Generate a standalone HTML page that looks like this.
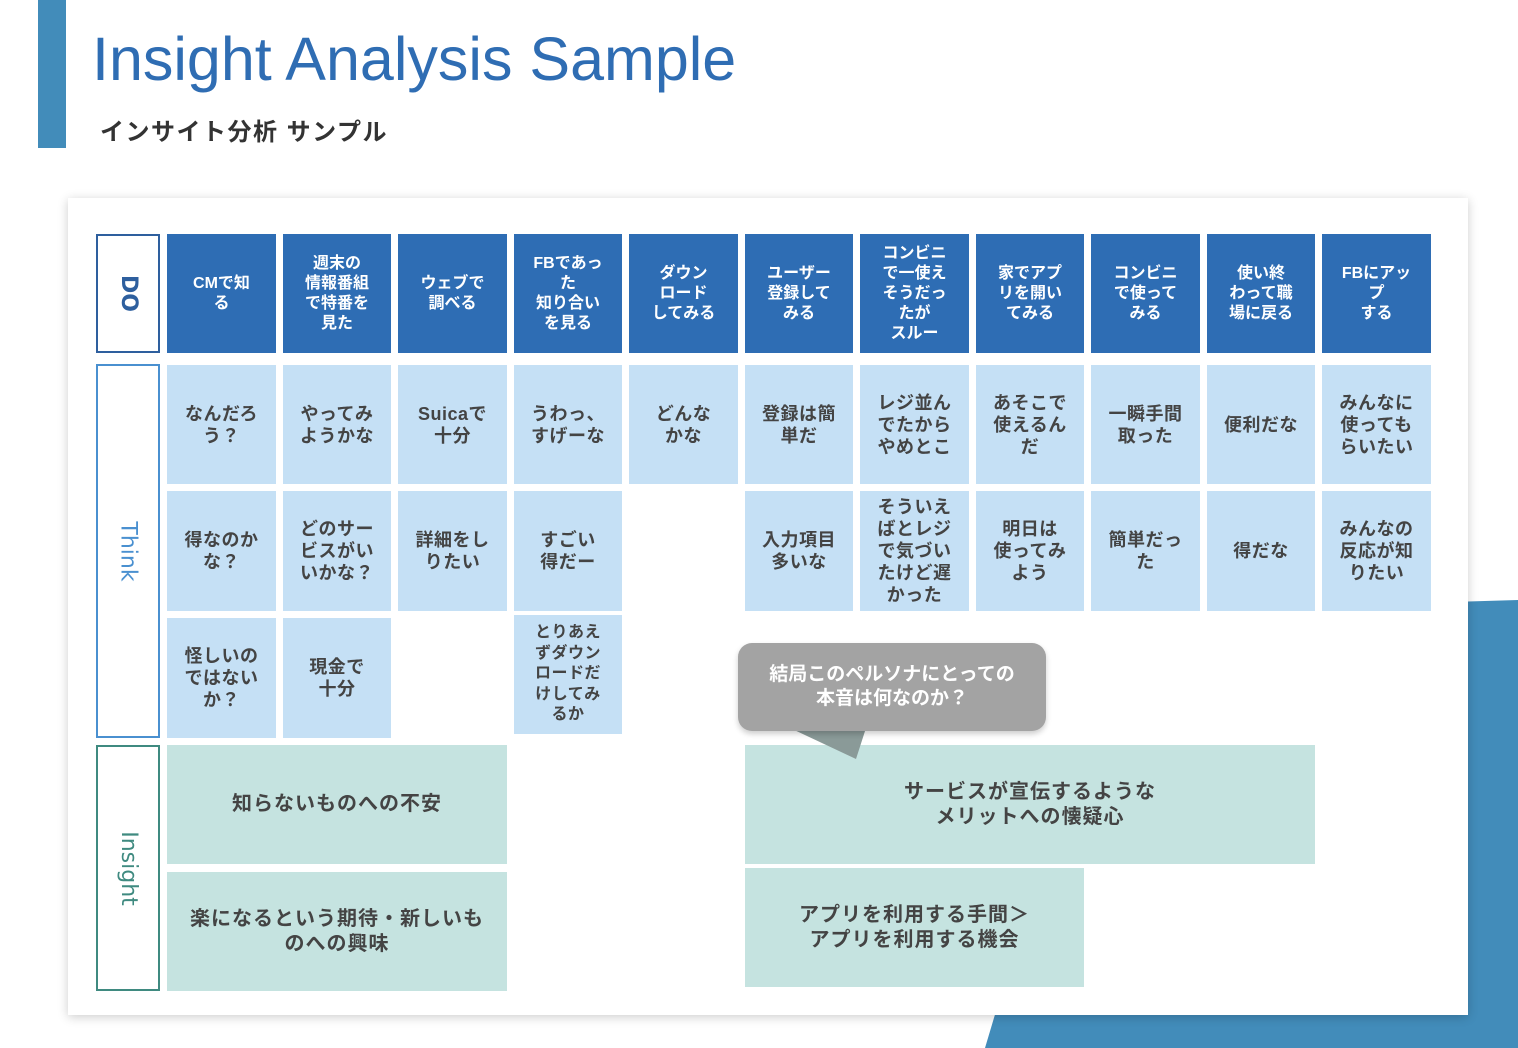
<!DOCTYPE html>
<html><head><meta charset="utf-8"><style>
*{margin:0;padding:0;box-sizing:border-box}
body{width:1518px;height:1048px;position:relative;background:#fff;overflow:hidden;font-family:"Liberation Sans","Noto Sans CJK JP",sans-serif}
.a{position:absolute}
.c{position:absolute;display:flex;align-items:center;justify-content:center;text-align:center;font-weight:bold;font-size:18px;line-height:22px;color:#444;letter-spacing:0.5px}
.d{background:#2e6db4;color:#fff;font-size:16px;line-height:20px;letter-spacing:0}
.t{background:#c5e0f5}
.i{background:#c5e3e0;font-size:20px;line-height:25px;letter-spacing:1px}
.lab{position:absolute;left:96px;width:64px;border:2px solid;background:#fff;display:flex;align-items:center;justify-content:center}
.lab span{transform:rotate(90deg);white-space:nowrap;font-size:22px;font-family:"DejaVu Sans","Liberation Sans",sans-serif}
</style></head><body>
<div class="a" style="left:38px;top:0;width:28px;height:148px;background:#428cba"></div>
<div class="a" style="left:92px;top:24px;font-size:61px;color:#2f6db3;font-family:'Liberation Sans',sans-serif;white-space:nowrap">Insight Analysis Sample</div>
<div class="a" style="left:100px;top:112px;font-size:24px;font-weight:bold;color:#333;white-space:nowrap;letter-spacing:1.5px">インサイト分析 サンプル</div>
<svg class="a" style="left:0;top:0" width="1518" height="1048"><polygon points="1115,612 1518,600 1518,1048 985,1048" fill="#428cba"/></svg>
<div class="a" style="left:68px;top:198px;width:1400px;height:817px;background:#fff;box-shadow:0 2px 10px rgba(0,0,0,0.2)"></div>

<div class="lab" style="top:234px;height:119px;border-color:#2e5f9e"><span style="color:#2e5f9e;font-weight:bold">DO</span></div>
<div class="lab" style="top:364px;height:374px;border-color:#4a90d0"><span style="color:#4a90d0">Think</span></div>
<div class="lab" style="top:745px;height:246px;border-color:#3f8a80"><span style="color:#3f8a80">Insight</span></div>

<div class="c d" style="left:167px;top:234px;width:109px;height:119px">CMで知<br>る</div>
<div class="c d" style="left:283px;top:234px;width:108px;height:119px">週末の<br>情報番組<br>で特番を<br>見た</div>
<div class="c d" style="left:398px;top:234px;width:109px;height:119px">ウェブで<br>調べる</div>
<div class="c d" style="left:514px;top:234px;width:108px;height:119px">FBであっ<br>た<br>知り合い<br>を見る</div>
<div class="c d" style="left:629px;top:234px;width:109px;height:119px">ダウン<br>ロード<br>してみる</div>
<div class="c d" style="left:745px;top:234px;width:108px;height:119px">ユーザー<br>登録して<br>みる</div>
<div class="c d" style="left:860px;top:234px;width:109px;height:119px">コンビニ<br>で一使え<br>そうだっ<br>たが<br>スルー</div>
<div class="c d" style="left:976px;top:234px;width:108px;height:119px">家でアプ<br>リを開い<br>てみる</div>
<div class="c d" style="left:1091px;top:234px;width:109px;height:119px">コンビニ<br>で使って<br>みる</div>
<div class="c d" style="left:1207px;top:234px;width:108px;height:119px">使い終<br>わって職<br>場に戻る</div>
<div class="c d" style="left:1322px;top:234px;width:109px;height:119px">FBにアッ<br>プ<br>する</div>

<div class="c t" style="left:167px;top:365px;width:109px;height:119px">なんだろ<br>う？</div>
<div class="c t" style="left:283px;top:365px;width:108px;height:119px">やってみ<br>ようかな</div>
<div class="c t" style="left:398px;top:365px;width:109px;height:119px">Suicaで<br>十分</div>
<div class="c t" style="left:514px;top:365px;width:108px;height:119px">うわっ、<br>すげーな</div>
<div class="c t" style="left:629px;top:365px;width:109px;height:119px">どんな<br>かな</div>
<div class="c t" style="left:745px;top:365px;width:108px;height:119px">登録は簡<br>単だ</div>
<div class="c t" style="left:860px;top:365px;width:109px;height:119px">レジ並ん<br>でたから<br>やめとこ</div>
<div class="c t" style="left:976px;top:365px;width:108px;height:119px">あそこで<br>使えるん<br>だ</div>
<div class="c t" style="left:1091px;top:365px;width:109px;height:119px">一瞬手間<br>取った</div>
<div class="c t" style="left:1207px;top:365px;width:108px;height:119px">便利だな</div>
<div class="c t" style="left:1322px;top:365px;width:109px;height:119px">みんなに<br>使っても<br>らいたい</div>

<div class="c t" style="left:167px;top:491px;width:109px;height:120px">得なのか<br>な？</div>
<div class="c t" style="left:283px;top:491px;width:108px;height:120px">どのサー<br>ビスがい<br>いかな？</div>
<div class="c t" style="left:398px;top:491px;width:109px;height:120px">詳細をし<br>りたい</div>
<div class="c t" style="left:514px;top:491px;width:108px;height:120px">すごい<br>得だー</div>
<div class="c t" style="left:745px;top:491px;width:108px;height:120px">入力項目<br>多いな</div>
<div class="c t" style="left:860px;top:491px;width:109px;height:120px">そういえ<br>ばとレジ<br>で気づい<br>たけど遅<br>かった</div>
<div class="c t" style="left:976px;top:491px;width:108px;height:120px">明日は<br>使ってみ<br>よう</div>
<div class="c t" style="left:1091px;top:491px;width:109px;height:120px">簡単だっ<br>た</div>
<div class="c t" style="left:1207px;top:491px;width:108px;height:120px">得だな</div>
<div class="c t" style="left:1322px;top:491px;width:109px;height:120px">みんなの<br>反応が知<br>りたい</div>

<div class="c t" style="left:167px;top:618px;width:109px;height:120px">怪しいの<br>ではない<br>か？</div>
<div class="c t" style="left:283px;top:618px;width:108px;height:120px">現金で<br>十分</div>
<div class="c t" style="left:514px;top:615px;width:108px;height:119px;font-size:16px;line-height:20.5px">とりあえ<br>ずダウン<br>ロードだ<br>けしてみ<br>るか</div>

<div class="c i" style="left:167px;top:745px;width:340px;height:119px">知らないものへの不安</div>
<div class="c i" style="left:167px;top:872px;width:340px;height:119px">楽になるという期待・新しいも<br>のへの興味</div>
<div class="c i" style="left:745px;top:745px;width:570px;height:119px">サービスが宣伝するような<br>メリットへの懐疑心</div>
<div class="c i" style="left:745px;top:868px;width:339px;height:119px">アプリを利用する手間＞<br>アプリを利用する機会</div>

<svg class="a" style="left:0;top:0" width="1518" height="1048"><polygon points="790,728 866,728 856,759" fill="#8a9a98"/></svg>
<div class="c" style="left:738px;top:643px;width:308px;height:88px;background:#a3a3a3;border-radius:14px;color:#fff;font-size:19px;line-height:24px;letter-spacing:0;box-shadow:0 3px 6px rgba(0,0,0,0.2)">結局このペルソナにとっての<br>本音は何なのか？</div>
</body></html>
